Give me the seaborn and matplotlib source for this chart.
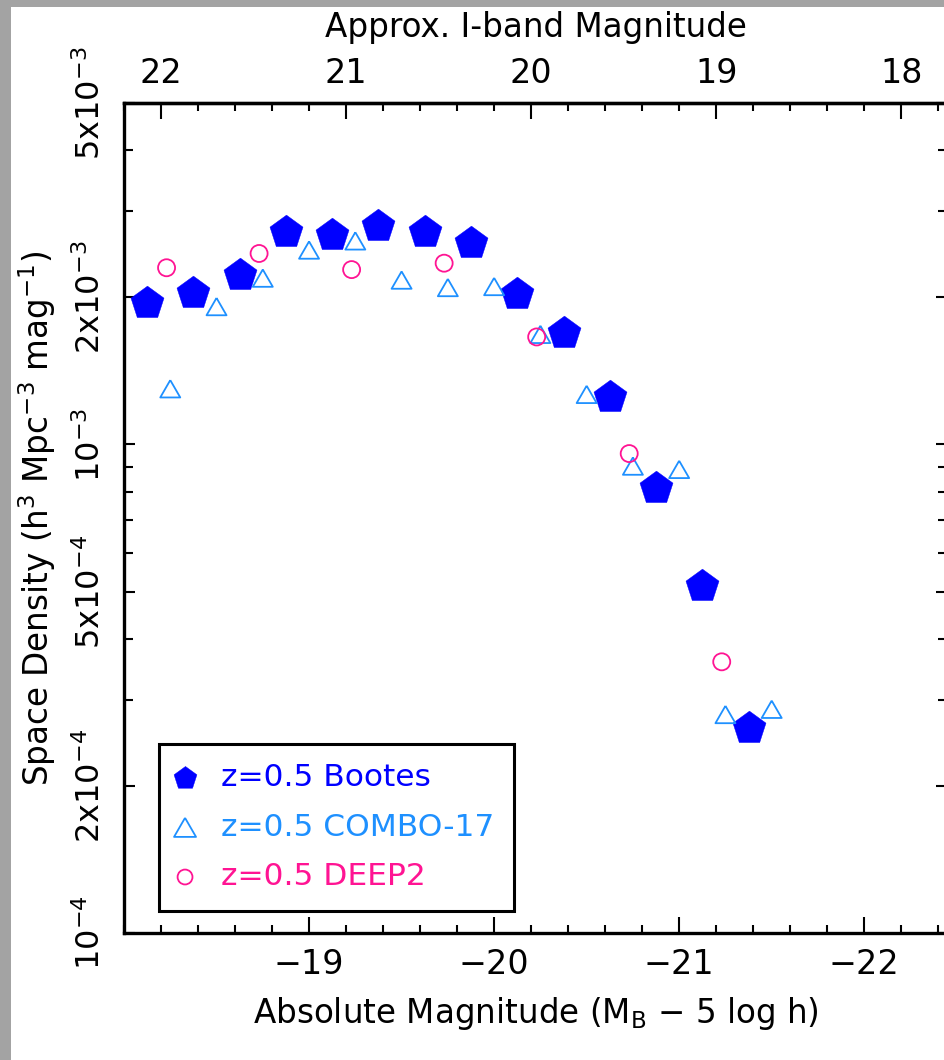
import numpy as np
import pandas as pd
import matplotlib
matplotlib.use("Agg")
import matplotlib.pyplot as plt
import matplotlib.ticker as mticker
from matplotlib.patches import Rectangle
import seaborn as sns

# ---------------- data ----------------
bootes_mag = [-18.125, -18.375, -18.625, -18.875, -19.125, -19.375, -19.625,
              -19.875, -20.125, -20.375, -20.625, -20.875, -21.125, -21.375]
bootes_den = [1.95e-3, 2.04e-3, 2.22e-3, 2.72e-3, 2.68e-3, 2.80e-3, 2.72e-3,
              2.58e-3, 2.03e-3, 1.69e-3, 1.25e-3, 8.15e-4, 5.13e-4, 2.63e-4]

combo_mag = [-18.25, -18.5, -18.75, -19.0, -19.25, -19.5, -19.75,
             -20.0, -20.25, -20.5, -20.75, -21.0, -21.25, -21.5]
combo_den = [1.30e-3, 1.915e-3, 2.19e-3, 2.50e-3, 2.61e-3, 2.17e-3, 2.095e-3,
             2.105e-3, 1.68e-3, 1.266e-3, 9.03e-4, 8.89e-4, 2.80e-4, 2.87e-4]

deep2_mag = [-18.23, -18.73, -19.23, -19.73, -20.23, -20.73, -21.23]
deep2_den = [2.30e-3, 2.46e-3, 2.28e-3, 2.35e-3, 1.66e-3, 9.58e-4, 3.59e-4]

series_labels = ["z=0.5 Bootes", "z=0.5 COMBO-17", "z=0.5 DEEP2"]
series_colors = ["#0000ff", "#1e90ff", "#ff1493"]

y_tick_values = [1e-4, 2e-4, 5e-4, 1e-3, 2e-3, 5e-3]
y_tick_labels = [r"$\mathregular{10^{-4}}$", r"$\mathregular{2x10^{-4}}$",
                 r"$\mathregular{5x10^{-4}}$", r"$\mathregular{10^{-3}}$",
                 r"$\mathregular{2x10^{-3}}$", r"$\mathregular{5x10^{-3}}$"]
x_bottom_ticks = [-19, -20, -21, -22]
x_top_ticks = [22, 21, 20, 19, 18]
I_OFFSET = 40.2  # approx. I-band magnitude = M_B + offset

# ---------------- style ----------------
sns.set_theme(style="ticks")
plt.rcParams["font.family"] = ["DejaVu Sans"]
plt.rcParams["mathtext.fontset"] = "dejavusans"
plt.rcParams["axes.unicode_minus"] = True

fig = plt.figure(figsize=(9.45, 10.6), dpi=100, facecolor="white")
ax = fig.add_axes([124 / 945, (1060 - 933) / 1060, (947.5 - 124) / 945, (933 - 103) / 1060])

# grey background strips (as in the reference screenshot)
fig.add_artist(Rectangle((0, 0), 11 / 945, 1, transform=fig.transFigure,
                         facecolor="#a3a3a3", edgecolor="none", zorder=-10))
fig.add_artist(Rectangle((0, 1 - 7 / 1060), 1, 7 / 1060, transform=fig.transFigure,
                         facecolor="#a3a3a3", edgecolor="none", zorder=-10))

df_b = pd.DataFrame({"mag": bootes_mag, "den": bootes_den})
df_c = pd.DataFrame({"mag": combo_mag, "den": combo_den})
df_d = pd.DataFrame({"mag": deep2_mag, "den": deep2_den})

tri = [(0, 0.866), (-1, -0.866), (1, -0.866), (0, 0.866)]

sns.scatterplot(data=df_b, x="mag", y="den", ax=ax, marker="p", s=625,
                color=series_colors[0], edgecolor=series_colors[0], linewidth=0.3,
                label=series_labels[0], zorder=3)
sns.scatterplot(data=df_c, x="mag", y="den", ax=ax, marker=tri, s=207,
                color=series_colors[1], facecolor="none", edgecolor=series_colors[1],
                linewidth=1.3, label=series_labels[1], zorder=4)
sns.scatterplot(data=df_d, x="mag", y="den", ax=ax, marker="o", s=150,
                color=series_colors[2], facecolor="none", edgecolor=series_colors[2],
                linewidth=1.3, label=series_labels[2], zorder=5)

ax.set_yscale("log")
ax.set_ylim(1e-4, 5e-3)
ax.set_xlim(-18.0, -22.45)

# spines
for sp in ax.spines.values():
    sp.set_visible(True)
    sp.set_linewidth(2.4)
    sp.set_color("black")

# x ticks (bottom)
ax.xaxis.set_major_locator(mticker.FixedLocator(x_bottom_ticks))
ax.xaxis.set_major_formatter(mticker.FixedFormatter([f"\u2212{abs(v)}" for v in x_bottom_ticks]))
ax.xaxis.set_minor_locator(mticker.MultipleLocator(0.2))
ax.tick_params(axis="x", which="major", direction="in", length=11.5, width=1.5,
               labelsize=24, pad=11, colors="black", top=False, bottom=True)
ax.tick_params(axis="x", which="minor", direction="in", length=6, width=1.5,
               top=False, bottom=True, colors="black")

# y ticks
ax.set_yticks(y_tick_values)
ax.set_yticklabels(y_tick_labels, rotation=90, va="center")
ax.yaxis.set_minor_locator(mticker.LogLocator(base=10, subs=np.arange(2, 10)))
ax.yaxis.set_minor_formatter(mticker.NullFormatter())
ax.tick_params(axis="y", which="major", direction="in", length=8, width=1.5,
               labelsize=23, pad=12, left=True, right=True, colors="black")
ax.tick_params(axis="y", which="minor", direction="in", length=6.5, width=1.5,
               left=True, right=True, colors="black")

# top secondary axis (approx. I-band magnitude)
secax = ax.secondary_xaxis("top", functions=(lambda m: m + I_OFFSET, lambda i: i - I_OFFSET))
secax.xaxis.set_major_locator(mticker.FixedLocator(x_top_ticks))
secax.xaxis.set_major_formatter(mticker.FixedFormatter([str(v) for v in x_top_ticks]))
secax.xaxis.set_minor_locator(mticker.MultipleLocator(0.2))
secax.tick_params(axis="x", which="major", direction="in", length=11.5, width=1.5,
                  labelsize=24, pad=9.5, colors="black")
secax.tick_params(axis="x", which="minor", direction="in", length=6, width=1.5, colors="black")
secax.spines["top"].set_linewidth(2.4)
secax.set_xlabel("Approx. I-band Magnitude", fontsize=23.5, color="black", labelpad=14)

# axis labels
ax.set_xlabel(r"Absolute Magnitude (M$\mathregular{_B}$ $\mathregular{-}$ 5 log h)",
              fontsize=23.5, color="black")
ax.xaxis.set_label_coords(0.5, (933 - 995) / 830)
ax.set_ylabel(r"Space Density (h$\mathregular{^3}$ Mpc$\mathregular{^{-3}}$ mag$\mathregular{^{-1}}$)",
              fontsize=23.5, color="black")
ax.yaxis.set_label_coords((58 - 124) / 823.5, 0.5)

# legend
leg = ax.legend(loc="lower left", bbox_to_anchor=(0.043, 0.027), borderaxespad=0,
                fontsize=22.5, frameon=True, fancybox=False, framealpha=1,
                edgecolor="black", labelspacing=0.66, handletextpad=0.95,
                borderpad=0.62, handlelength=0.4)
leg.get_frame().set_linewidth(2.2)
for txt, col in zip(leg.get_texts(), series_colors):
    txt.set_color(col)
handle_sizes = [300, 250, 115]
for h, sz in zip(leg.legend_handles, handle_sizes):
    h.set_sizes([sz])

fig.savefig("out.png", dpi=100, facecolor="white")
